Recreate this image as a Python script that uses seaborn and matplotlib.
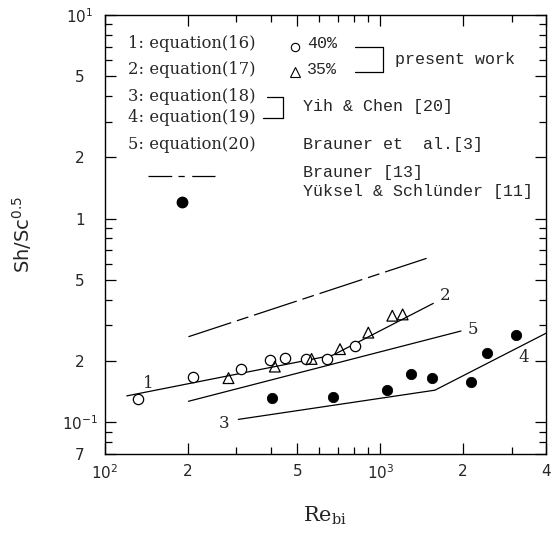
import matplotlib
matplotlib.use("Agg")
import matplotlib.pyplot as plt
import pandas as pd
import seaborn as sns
from matplotlib.ticker import FixedLocator, FixedFormatter, NullFormatter

# Measured Sh/Sc^0.5 against Re_bi, present work
re_40 = [132, 209, 311, 397, 451, 537, 639, 809]
sh_40 = [0.131, 0.167, 0.182, 0.202, 0.208, 0.204, 0.204, 0.237]
re_35 = [281, 414, 563, 714, 905, 1106, 1206]
sh_35 = [0.165, 0.188, 0.205, 0.229, 0.276, 0.334, 0.339]

# Yüksel & Schlünder [11]
re_ys = [403, 675, 1060, 1296, 1541, 2130, 2435, 3111]
sh_ys = [0.132, 0.134, 0.144, 0.172, 0.165, 0.158, 0.218, 0.270]

# Correlations (end and break points of straight lines in log-log)
re_eq16_17 = [120, 673, 1558]
sh_eq16_17 = [0.135, 0.214, 0.384]
re_eq18_19 = [305, 1580, 4000]
sh_eq18_19 = [0.1035, 0.144, 0.274]
re_eq20 = [201, 1964]
sh_eq20 = [0.127, 0.281]
re_brauner = [201, 1474]
sh_brauner = [0.2635, 0.639]

# Curve numbers next to the correlation lines
curve_ids = ["1", "2", "3", "4", "5"]
curve_id_re = [143, 1718, 271, 3327, 2166]
curve_id_sh = [0.156, 0.422, 0.0993, 0.209, 0.287]

x_ticks = [100, 200, 500, 1000, 2000, 4000]
x_ticklabels = [r"$10^2$", "2", "5", r"$10^3$", "2", "4"]
x_minor = [300, 400, 600, 700, 800, 900, 3000]
y_ticks = [0.07, 0.1, 0.2, 0.5, 1, 2, 5, 10]
y_ticklabels = ["7", r"$10^{-1}$", "2", "5", "1", "2", "5", r"$10^1$"]
y_minor = [0.08, 0.09, 0.3, 0.4, 0.6, 0.7, 0.8, 0.9, 3, 4, 6, 7, 8, 9]

sns.set_style("ticks")
plt.rcParams["font.family"] = ["DejaVu Sans"]

fig = plt.figure(figsize=(5.57, 5.35), dpi=100)
ax = fig.add_axes([0.1885, 0.1514, 0.7917, 0.8206])
ax.set_xscale("log")
ax.set_yscale("log")

lw = 0.9
def line(xs, ys):
    df = pd.DataFrame({"Re": xs, "Sh": ys})
    sns.lineplot(data=df, x="Re", y="Sh", ax=ax, sort=False, estimator=None,
                 color="black", lw=lw)
    return ax.lines[-1]

line(re_eq16_17, sh_eq16_17)
line(re_eq18_19, sh_eq18_19)
line(re_eq20, sh_eq20)
dashed = line(re_brauner, sh_brauner)
dashed.set_dashes([36, 4.8, 9.6, 4.8])

df40 = pd.DataFrame({"Re": re_40, "Sh": sh_40})
df35 = pd.DataFrame({"Re": re_35, "Sh": sh_35})
dfys = pd.DataFrame({"Re": re_ys, "Sh": sh_ys})
sns.scatterplot(data=df40, x="Re", y="Sh", ax=ax, marker="o", s=55,
                facecolor="white", edgecolor="black", linewidth=0.9, zorder=3)
sns.scatterplot(data=df35, x="Re", y="Sh", ax=ax, marker="^", s=60,
                facecolor="none", edgecolor="black", linewidth=0.9, zorder=3)
sns.scatterplot(data=dfys, x="Re", y="Sh", ax=ax, marker="o", s=55,
                color="black", edgecolor="black", zorder=3)

for t, xv, yv in zip(curve_ids, curve_id_re, curve_id_sh):
    ax.text(xv, yv, t, fontsize=12, family="DejaVu Serif", ha="center", va="center")

ax.set_xlim(100, 4000)
ax.set_ylim(0.07, 10)

ax.xaxis.set_major_locator(FixedLocator(x_ticks))
ax.xaxis.set_major_formatter(FixedFormatter(x_ticklabels))
ax.xaxis.set_minor_locator(FixedLocator(x_minor))
ax.xaxis.set_minor_formatter(NullFormatter())
ax.yaxis.set_major_locator(FixedLocator(y_ticks))
ax.yaxis.set_major_formatter(FixedFormatter(y_ticklabels))
ax.yaxis.set_minor_locator(FixedLocator(y_minor))
ax.yaxis.set_minor_formatter(NullFormatter())

ax.tick_params(which="both", direction="in", top=True, right=True,
               color="black", width=0.9)
ax.tick_params(which="major", length=8, labelsize=11)
ax.tick_params(which="minor", length=5)
ax.tick_params(axis="x", which="major", pad=7)
ax.tick_params(axis="y", which="major", pad=18)
for lab in ax.get_yticklabels():
    lab.set_horizontalalignment("center")
for sp in ax.spines.values():
    sp.set_linewidth(1.0)
    sp.set_color("black")

ax.set_xlabel(r"$\mathrm{Re}_{\mathrm{bi}}$", fontsize=15, labelpad=16,
              math_fontfamily="dejavuserif")
ax.set_ylabel(r"Sh/Sc$^{0.5}$", fontsize=14, labelpad=20)

# In-plot key
T = ax.transAxes
serif = "DejaVu Serif"
mono = "Liberation Mono"
left_items = [("1: equation(16)", 0.9339), ("2: equation(17)", 0.8747),
              ("3: equation(18)", 0.8132), ("4: equation(19)", 0.7654),
              ("5: equation(20)", 0.7039)]
for s, yv in left_items:
    ax.text(0.052, yv, s, transform=T, fontsize=11.8, family=serif, va="center")

ax.plot([0.4308], [0.9271], marker="o", ms=6, mfc="white", mec="black",
        mew=0.8, transform=T, clip_on=False)
ax.plot([0.4308], [0.8702], marker="^", ms=6.5, mfc="white", mec="black",
        mew=0.8, transform=T, clip_on=False)
ax.text(0.458, 0.9339, "40%", transform=T, fontsize=12, family=mono, va="center")
ax.text(0.458, 0.8747, "35%", transform=T, fontsize=12, family=mono, va="center")
ax.plot([0.567, 0.630, 0.630, 0.567], [0.9271, 0.9271, 0.8702, 0.8702],
        color="black", lw=lw, transform=T)
ax.text(0.658, 0.8975, "present work", transform=T, fontsize=12,
        family=mono, va="center")

ax.plot([0.3673, 0.4036, 0.4036, 0.3583], [0.8132, 0.8132, 0.7654, 0.7654],
        color="black", lw=lw, transform=T)
right_items = [("Yih & Chen [20]", 0.7904), ("Brauner et  al.[3]", 0.7039),
               ("Brauner [13]", 0.6401), ("Yüksel & Schlünder [11]", 0.5968)]
for s, yv in right_items:
    ax.text(0.449, yv, s, transform=T, fontsize=12, family=mono, va="center")

ax.plot([0.0975, 0.2494], [0.6333, 0.6333], color="black", lw=lw,
        dashes=(19, 5, 5, 6), transform=T)
ax.plot([0.1746], [0.5740], marker="o", ms=7.5, color="black", transform=T)

fig.savefig("out.png", dpi=100, facecolor="white")
